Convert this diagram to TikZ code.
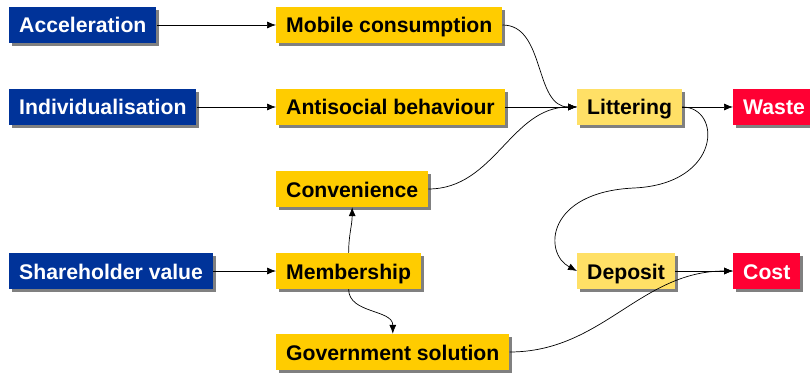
\documentclass[tikz,border=0pt]{standalone}
\usepackage{fontspec}
\setmainfont{Liberation Sans}
\usetikzlibrary{arrows.meta,shadows}
\definecolor{boxblue}{RGB}{0,51,153}
\definecolor{boxgold}{RGB}{255,204,0}
\definecolor{boxpale}{RGB}{255,224,102}
\definecolor{boxred}{RGB}{255,0,51}

\begin{document}
\begin{tikzpicture}[x=1pt, y=-1pt,
  box/.style={anchor=west, minimum height=36pt, inner xsep=10pt, inner ysep=0pt,
    text height=16pt, text depth=0pt,
    font=\fontsize{21.2}{25}\selectfont\bfseries,
    drop shadow={shadow xshift=3pt, shadow yshift=-3pt, fill=gray, opacity=1}},
  driver/.style={box, fill=boxblue, text=white},
  factor/.style={box, fill=boxgold},
  effect/.style={box, fill=boxpale},
  result/.style={box, fill=boxred, text=white},
  link/.style={line width=0.7pt, -{Latex[length=9pt,width=7pt]}}]
\useasboundingbox (0,0) rectangle (810,374);

% Drivers
\node[driver] (acc) at (9,25) {Acceleration};
\node[driver] (ind) at (9,107) {Individualisation};
\node[driver] (share) at (9,271) {Shareholder value};

% Factors
\node[factor] (mob) at (276,25) {Mobile consumption};
\node[factor] (anti) at (276,107) {Antisocial behaviour};
\node[factor] (conv) at (276,189) {Convenience};
\node[factor] (memb) at (276,271) {Membership};
\node[factor] (gov) at (276,352) {Government solution};

% Effects
\node[effect] (litt) at (577,107) {Littering};
\node[effect] (dep) at (577,271) {Deposit};
\node[result] (waste) at (733,107) {Waste};
\node[result] (cost) at (733,271) {Cost};

% Links
\draw[link] (acc) -- (mob);
\draw[link] (ind) -- (anti);
\draw[link] (share) -- (memb);
\draw[link] (mob.east) to[out=0, in=180] (litt.west);
\draw[link] (anti) -- (litt);
\draw[link] (conv.east) to[out=0, in=180] (litt.west);
\draw[link] (litt) -- (waste);
\coordinate (swing) at (634,188);
\draw[link] (litt.east) .. controls +(40,0) and +(88,-4) .. (swing)
  .. controls +(-88,4) and +(-34,-18) .. (dep.west);
\draw[link] (dep) -- (cost);
\draw[link] (gov.east) to[out=0, in=180] (cost.west);
\draw[link] (memb.north) to[out=90, in=-90] (conv.south);
\draw[link] (memb.south) to[out=-90, in=90] (gov.north);
\end{tikzpicture}
\end{document}
